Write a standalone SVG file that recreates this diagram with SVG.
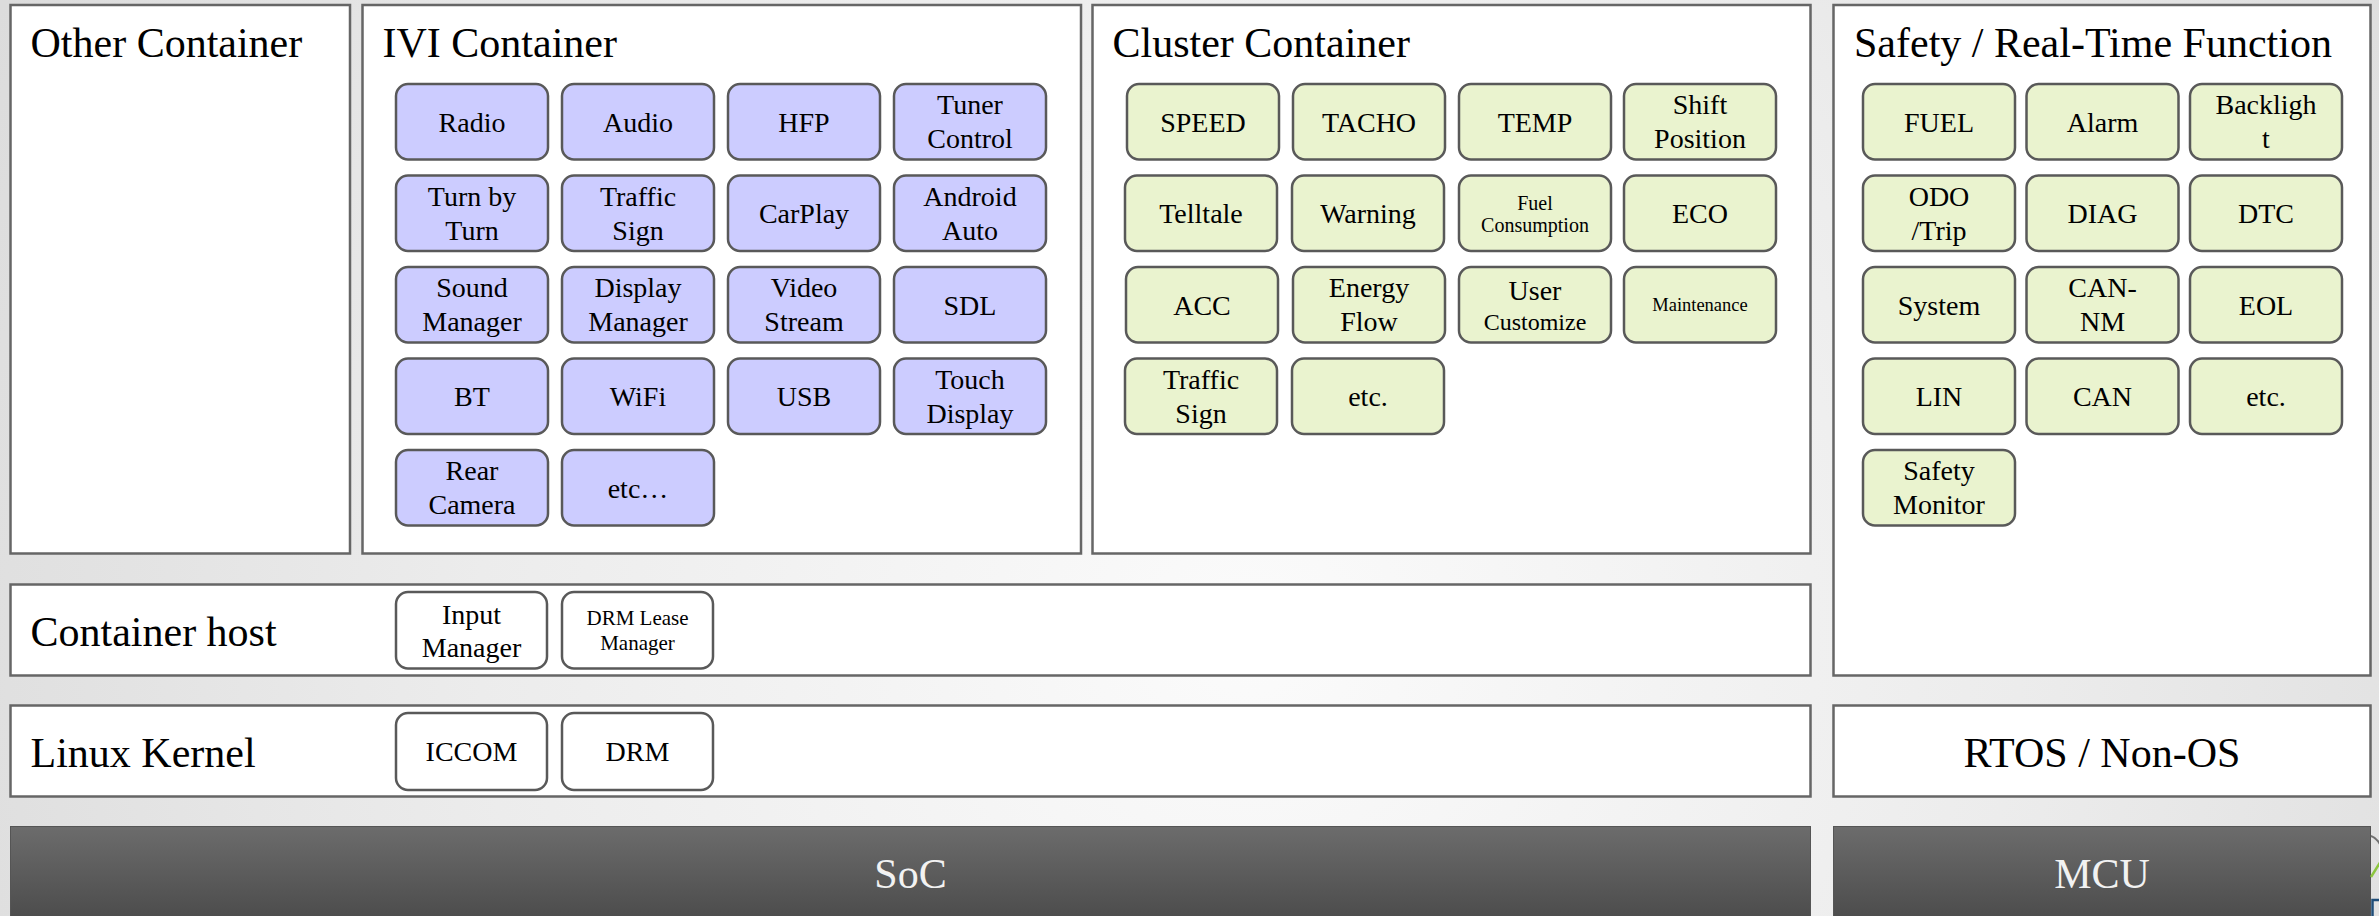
<svg xmlns="http://www.w3.org/2000/svg" width="2379" height="916" viewBox="0 0 2379 916">
<defs>
<radialGradient id="bg" cx="1250" cy="640" r="1400" gradientUnits="userSpaceOnUse">
<stop offset="0" stop-color="#fbfbfb"/>
<stop offset="0.55" stop-color="#ececec"/>
<stop offset="1" stop-color="#dcdcdc"/>
</radialGradient>
<linearGradient id="dark" x1="0" y1="0" x2="0" y2="1">
<stop offset="0" stop-color="#6c6c6c"/>
<stop offset="1" stop-color="#4b4b4b"/>
</linearGradient>
<style>
.box{fill:#ffffff;stroke:#666666;stroke-width:2.5}
.bar{fill:url(#dark);stroke:#555555;stroke-width:1}
.ivi{fill:#ccccff;stroke:#595959;stroke-width:2.5}
.grn{fill:#eaf3cf;stroke:#595959;stroke-width:2.5}
.wht{fill:#ffffff;stroke:#595959;stroke-width:2.5}
text{font-family:"Liberation Serif","Times New Roman",serif;fill:#000000}
.title{font-size:42px}
.ctr{font-size:42px;text-anchor:middle}
.bartxt{font-size:42px;text-anchor:middle;fill:#f2f2f2}
.n{font-size:28px;text-anchor:middle}
.s20{font-size:20px;text-anchor:middle}
.s21{font-size:21px;text-anchor:middle}
.s24{font-size:24px;text-anchor:middle}
.s18{font-size:18.5px;text-anchor:middle}
</style>
</defs>
<rect x="0" y="0" width="2379" height="916" fill="url(#bg)"/>

<g id="other-container">
<rect class="box" x="10.5" y="5" width="339.5" height="548.5"/>
<text class="title" x="30.5" y="57">Other Container</text>
</g>

<g id="ivi-container">
<rect class="box" x="362.5" y="5" width="718.5" height="548.5"/>
<text class="title" x="382.5" y="57">IVI Container</text>
</g>

<g id="cluster-container">
<rect class="box" x="1092.5" y="5" width="718" height="548.5"/>
<text class="title" x="1112.5" y="57">Cluster Container</text>
</g>

<g id="safety-function">
<rect class="box" x="1833.5" y="5" width="537" height="670.5"/>
<text class="title" x="1854" y="57">Safety / Real-Time Function</text>
</g>

<g id="container-host">
<rect class="box" x="10.5" y="584.5" width="1800" height="91"/>
<text class="title" x="30.5" y="646">Container host</text>
</g>

<g id="linux-kernel">
<rect class="box" x="10.5" y="705.5" width="1800" height="91"/>
<text class="title" x="30.5" y="766.5">Linux Kernel</text>
</g>

<g id="rtos">
<rect class="box" x="1833.5" y="705.5" width="537" height="91"/>
<text class="ctr" x="2102" y="766.5">RTOS / Non-OS</text>
</g>

<g id="soc">
<rect class="bar" x="10.5" y="826.5" width="1800" height="95"/>
<text class="bartxt" x="910.5" y="888">SoC</text>
</g>

<g id="mcu">
<rect class="bar" x="1833.5" y="826.5" width="537" height="95"/>
<text class="bartxt" x="2102" y="888">MCU</text>
</g>

<g id="logo-fragment">
<path d="M2371 836 Q2377 838 2381 846" fill="none" stroke="#707070" stroke-width="2"/>
<path d="M2371 877 L2381 861" fill="none" stroke="#8cc63f" stroke-width="2.5"/>
<rect x="2372.5" y="900" width="8" height="18" fill="none" stroke="#1f4e79" stroke-width="2.5"/>
</g>

<!-- IVI nodes -->
<g id="radio"><rect class="ivi" x="396" y="84" width="152" height="75.5" rx="12"/><text class="n" x="472" y="131.5">Radio</text></g>
<g id="audio"><rect class="ivi" x="562" y="84" width="152" height="75.5" rx="12"/><text class="n" x="638" y="131.5">Audio</text></g>
<g id="hfp"><rect class="ivi" x="728" y="84" width="152" height="75.5" rx="12"/><text class="n" x="804" y="131.5">HFP</text></g>
<g id="tuner-control"><rect class="ivi" x="894" y="84" width="152" height="75.5" rx="12"/><text class="n" x="970" y="114">Tuner</text><text class="n" x="970" y="148">Control</text></g>

<g id="turn-by-turn"><rect class="ivi" x="396" y="175.5" width="152" height="75.5" rx="12"/><text class="n" x="472" y="205.5">Turn by</text><text class="n" x="472" y="239.5">Turn</text></g>
<g id="ivi-traffic-sign"><rect class="ivi" x="562" y="175.5" width="152" height="75.5" rx="12"/><text class="n" x="638" y="205.5">Traffic</text><text class="n" x="638" y="239.5">Sign</text></g>
<g id="carplay"><rect class="ivi" x="728" y="175.5" width="152" height="75.5" rx="12"/><text class="n" x="804" y="223">CarPlay</text></g>
<g id="android-auto"><rect class="ivi" x="894" y="175.5" width="152" height="75.5" rx="12"/><text class="n" x="970" y="205.5">Android</text><text class="n" x="970" y="239.5">Auto</text></g>

<g id="sound-manager"><rect class="ivi" x="396" y="267" width="152" height="75.5" rx="12"/><text class="n" x="472" y="297">Sound</text><text class="n" x="472" y="331">Manager</text></g>
<g id="display-manager"><rect class="ivi" x="562" y="267" width="152" height="75.5" rx="12"/><text class="n" x="638" y="297">Display</text><text class="n" x="638" y="331">Manager</text></g>
<g id="video-stream"><rect class="ivi" x="728" y="267" width="152" height="75.5" rx="12"/><text class="n" x="804" y="297">Video</text><text class="n" x="804" y="331">Stream</text></g>
<g id="sdl"><rect class="ivi" x="894" y="267" width="152" height="75.5" rx="12"/><text class="n" x="970" y="314.5">SDL</text></g>

<g id="bt"><rect class="ivi" x="396" y="358.5" width="152" height="75.5" rx="12"/><text class="n" x="472" y="406">BT</text></g>
<g id="wifi"><rect class="ivi" x="562" y="358.5" width="152" height="75.5" rx="12"/><text class="n" x="638" y="406">WiFi</text></g>
<g id="usb"><rect class="ivi" x="728" y="358.5" width="152" height="75.5" rx="12"/><text class="n" x="804" y="406">USB</text></g>
<g id="touch-display"><rect class="ivi" x="894" y="358.5" width="152" height="75.5" rx="12"/><text class="n" x="970" y="388.5">Touch</text><text class="n" x="970" y="422.5">Display</text></g>

<g id="rear-camera"><rect class="ivi" x="396" y="450" width="152" height="75.5" rx="12"/><text class="n" x="472" y="480">Rear</text><text class="n" x="472" y="514">Camera</text></g>
<g id="ivi-etc"><rect class="ivi" x="562" y="450" width="152" height="75.5" rx="12"/><text class="n" x="638" y="497.5">etc…</text></g>

<!-- Cluster nodes -->
<g id="speed"><rect class="grn" x="1127" y="84" width="152" height="75.5" rx="12"/><text class="n" x="1203" y="131.5">SPEED</text></g>
<g id="tacho"><rect class="grn" x="1293" y="84" width="152" height="75.5" rx="12"/><text class="n" x="1369" y="131.5">TACHO</text></g>
<g id="temp"><rect class="grn" x="1459" y="84" width="152" height="75.5" rx="12"/><text class="n" x="1535" y="131.5">TEMP</text></g>
<g id="shift-position"><rect class="grn" x="1624" y="84" width="152" height="75.5" rx="12"/><text class="n" x="1700" y="114">Shift</text><text class="n" x="1700" y="148">Position</text></g>

<g id="telltale"><rect class="grn" x="1125" y="175.5" width="152" height="75.5" rx="12"/><text class="n" x="1201" y="223">Telltale</text></g>
<g id="warning"><rect class="grn" x="1292" y="175.5" width="152" height="75.5" rx="12"/><text class="n" x="1368" y="223">Warning</text></g>
<g id="fuel-consumption"><rect class="grn" x="1459" y="175.5" width="152" height="75.5" rx="12"/><text class="s20" x="1535" y="210">Fuel</text><text class="s20" x="1535" y="232">Consumption</text></g>
<g id="eco"><rect class="grn" x="1624" y="175.5" width="152" height="75.5" rx="12"/><text class="n" x="1700" y="223">ECO</text></g>

<g id="acc"><rect class="grn" x="1126" y="267" width="152" height="75.5" rx="12"/><text class="n" x="1202" y="314.5">ACC</text></g>
<g id="energy-flow"><rect class="grn" x="1293" y="267" width="152" height="75.5" rx="12"/><text class="n" x="1369" y="297">Energy</text><text class="n" x="1369" y="331">Flow</text></g>
<g id="user-customize"><rect class="grn" x="1459" y="267" width="152" height="75.5" rx="12"/><text class="n" x="1535" y="300">User</text><text class="s24" x="1535" y="330">Customize</text></g>
<g id="maintenance"><rect class="grn" x="1624" y="267" width="152" height="75.5" rx="12"/><text class="s18" x="1700" y="311">Maintenance</text></g>

<g id="cluster-traffic-sign"><rect class="grn" x="1125" y="358.5" width="152" height="75.5" rx="12"/><text class="n" x="1201" y="388.5">Traffic</text><text class="n" x="1201" y="422.5">Sign</text></g>
<g id="cluster-etc"><rect class="grn" x="1292" y="358.5" width="152" height="75.5" rx="12"/><text class="n" x="1368" y="406">etc.</text></g>

<!-- Safety nodes -->
<g id="fuel"><rect class="grn" x="1863" y="84" width="152" height="75.5" rx="12"/><text class="n" x="1939" y="131.5">FUEL</text></g>
<g id="alarm"><rect class="grn" x="2026.5" y="84" width="152" height="75.5" rx="12"/><text class="n" x="2102.5" y="131.5">Alarm</text></g>
<g id="backlight"><rect class="grn" x="2190" y="84" width="152" height="75.5" rx="12"/><text class="n" x="2266" y="114">Backligh</text><text class="n" x="2266" y="148">t</text></g>

<g id="odo-trip"><rect class="grn" x="1863" y="175.5" width="152" height="75.5" rx="12"/><text class="n" x="1939" y="205.5">ODO</text><text class="n" x="1939" y="239.5">/Trip</text></g>
<g id="diag"><rect class="grn" x="2026.5" y="175.5" width="152" height="75.5" rx="12"/><text class="n" x="2102.5" y="223">DIAG</text></g>
<g id="dtc"><rect class="grn" x="2190" y="175.5" width="152" height="75.5" rx="12"/><text class="n" x="2266" y="223">DTC</text></g>

<g id="system"><rect class="grn" x="1863" y="267" width="152" height="75.5" rx="12"/><text class="n" x="1939" y="314.5">System</text></g>
<g id="can-nm"><rect class="grn" x="2026.5" y="267" width="152" height="75.5" rx="12"/><text class="n" x="2102.5" y="297">CAN-</text><text class="n" x="2102.5" y="331">NM</text></g>
<g id="eol"><rect class="grn" x="2190" y="267" width="152" height="75.5" rx="12"/><text class="n" x="2266" y="314.5">EOL</text></g>

<g id="lin"><rect class="grn" x="1863" y="358.5" width="152" height="75.5" rx="12"/><text class="n" x="1939" y="406">LIN</text></g>
<g id="can"><rect class="grn" x="2026.5" y="358.5" width="152" height="75.5" rx="12"/><text class="n" x="2102.5" y="406">CAN</text></g>
<g id="safety-etc"><rect class="grn" x="2190" y="358.5" width="152" height="75.5" rx="12"/><text class="n" x="2266" y="406">etc.</text></g>

<g id="safety-monitor"><rect class="grn" x="1863" y="450" width="152" height="75.5" rx="12"/><text class="n" x="1939" y="480">Safety</text><text class="n" x="1939" y="514">Monitor</text></g>

<!-- Host / kernel nodes -->
<g id="input-manager"><rect class="wht" x="396" y="592" width="151" height="76.5" rx="12"/><text class="n" x="471.5" y="623.5">Input</text><text class="n" x="471.5" y="657">Manager</text></g>
<g id="drm-lease-manager"><rect class="wht" x="562" y="592" width="151" height="76.5" rx="12"/><text class="s21" x="637.5" y="625">DRM Lease</text><text class="s21" x="637.5" y="650">Manager</text></g>
<g id="iccom"><rect class="wht" x="396" y="713" width="151" height="77" rx="12"/><text class="n" x="471.5" y="761">ICCOM</text></g>
<g id="drm"><rect class="wht" x="562" y="713" width="151" height="77" rx="12"/><text class="n" x="637.5" y="761">DRM</text></g>
</svg>
